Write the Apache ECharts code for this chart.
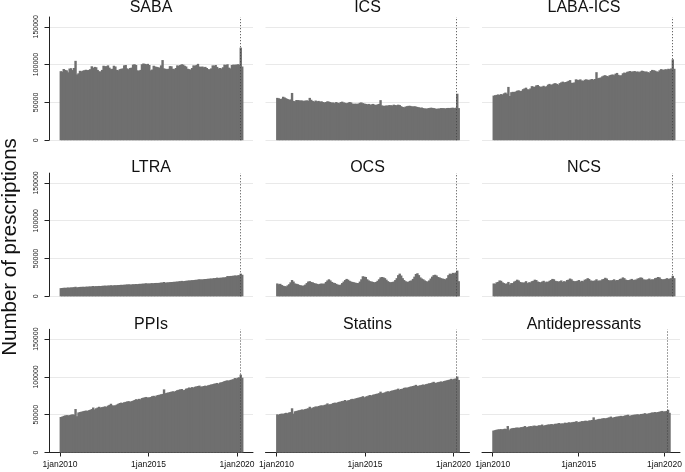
<!DOCTYPE html>
<html><head><meta charset="utf-8">
<script src="https://cdn.jsdelivr.net/npm/echarts@6/dist/echarts.min.js"></script>
<style>html,body{margin:0;padding:0;background:#fff}#c{width:685px;height:472px}</style>
</head><body><div id="c"></div>
<script>
// ---- data ----
const panelNames = ['SABA','ICS','LABA-ICS','LTRA','OCS','NCS','PPIs','Statins','Antidepressants'];
const startYear = 2010, startMonth = 1, monthCount = 124; // Jan 2010 .. Apr 2020
const xTickMonths = ['2010-01','2015-01','2020-01'];
const xTickLabels = ['1jan2010','1jan2015','1jan2020'];
const yTickValues = [0, 50000, 100000, 150000];
const referenceMonth = '2020-03';

const saba = [
 91300,90800,94200,93000,92400,89800,94800,95200,92800,95500,105000,87000,
 88500,91800,91200,92000,92600,93200,92800,93000,94000,97800,95500,97000,
 96500,93000,91200,91000,93000,98500,97800,98000,99000,96000,94000,94500,
 98500,97500,93000,92500,94000,94500,95000,99000,99500,95000,94000,95500,
 96000,100000,100500,99500,92500,91800,93000,100500,101500,101000,100500,101000,
 99500,92500,93500,98500,97500,97000,96500,96000,99000,106000,95000,94500,
 94000,94500,98000,97800,94500,94000,95500,99000,98500,99500,100500,100000,
 98500,97500,94500,94000,93500,95500,99000,98500,99500,101000,97500,97000,
 97500,96500,97000,95500,94000,93800,95000,99000,98500,99500,97000,95000,
 95500,94800,96500,100000,99500,100500,96000,95000,99500,100000,99800,100000,
 100500,100000,122500,97500];
const ics = [
 56000,55500,54500,55000,57500,56500,55500,54500,53500,54000,62500,52000,
 51500,53200,53000,52800,52500,52600,51800,52500,52700,52200,56000,53500,
 52000,51000,52500,51500,52000,51000,51500,50500,50000,50500,51500,51000,
 50500,49500,50000,49000,50500,49500,49000,50500,51000,50000,49500,49000,
 49500,50500,50000,48500,48000,48500,48000,48500,49500,50000,49000,48500,
 48000,47500,48000,47000,47500,48000,47000,46500,47500,48000,53000,46000,
 45500,45500,46000,45800,46500,46200,46000,47000,46500,46200,47000,46500,
 45000,44000,43500,44500,45000,45500,45500,45000,44500,45000,44500,44000,
 43500,43000,43200,42500,42000,41800,42200,42500,43000,42800,42500,42000,
 41500,41800,42000,42500,42500,42300,42000,42500,42700,42500,42800,43000,
 42500,43000,61500,42500];
const labaIcs = [
 59000,59500,60000,60500,60000,61000,60500,62000,63000,61500,70500,58500,
 63500,64000,63800,64500,65500,66000,65000,65500,67500,68500,69500,67500,
 67000,68500,71500,71000,70500,72500,73000,71500,70500,71000,72000,70500,
 71500,73500,74500,73000,74000,75000,75500,74500,73500,75500,76500,77500,
 76500,77000,77500,78500,79500,76000,75800,76500,80500,80000,79500,80500,
 79000,78500,80000,80500,80000,79500,80500,81000,80000,81000,90000,82000,
 82500,83000,84500,85500,86000,85000,84500,86000,86500,87000,86000,88000,
 89000,86500,85500,86000,88500,89500,89000,90500,91000,91500,90500,91000,
 91500,90500,91000,90000,91000,92000,91500,90500,91000,90000,89500,91500,
 93000,92500,92000,91000,90500,92500,94000,93500,93000,94000,93500,94500,
 94000,95000,107000,94500];
const ltra = [
 10800,11000,11300,11200,11400,11600,11500,11700,11900,12000,12600,11600,
 12200,12400,12500,12600,12500,12700,12800,12900,13000,13200,13600,13100,
 13400,13500,13700,13600,13800,14000,14100,14000,14200,14300,14600,14300,
 14500,14700,14600,14900,15000,15200,15100,15300,15500,15600,15900,15500,
 15700,15900,16000,16200,16100,16400,16500,16600,16800,16900,17300,16800,
 17000,17200,17400,17300,17600,17700,17600,17900,18100,18300,18900,18000,
 18300,18500,18700,18900,19000,19200,19300,19500,19800,20000,20400,20000,
 20300,20500,20800,20900,21100,21300,21500,21700,21900,22100,22600,22200,
 22400,22600,22900,23000,23200,23400,23500,23700,24000,24200,24700,24300,
 24500,24700,24900,25100,25300,26800,26600,26900,27000,27200,27600,27300,
 27800,28000,30000,28500];
const ocs = [
 17000,16000,16500,15000,14000,13500,13000,14500,16000,18500,21500,19500,
 17000,16500,16000,15000,14500,14000,14300,15500,17500,19500,20000,19000,
 18500,17500,17000,16500,16000,16500,17000,16500,17000,19000,21000,22500,
 21000,19000,18000,17500,16500,15500,15000,15500,17500,19500,21500,23000,
 22000,20500,19500,19000,18500,18000,17500,17500,19500,22500,26500,26000,
 25500,22500,21000,20000,19500,19000,18500,19000,20500,22500,25000,25500,
 25000,24000,22000,20000,19000,18500,19000,19500,21500,24000,28000,30000,
 27500,24000,21500,20000,19000,19500,20500,21000,23000,26000,29500,30500,
 28000,25000,23500,22500,21000,20000,19500,21000,23500,26000,28000,28500,
 27500,25500,25000,24000,23500,23000,22500,24000,28000,30000,29500,31000,
 30500,31500,34000,20000];
const ncs = [
 17000,16500,18500,19000,21000,20500,18500,17500,16500,17000,19000,15500,
 17500,17500,19500,20500,22000,21000,19000,18500,18000,18500,20000,17500,
 18500,18500,20000,20500,22000,21500,19500,19000,18500,19500,20500,18500,
 19500,19000,20500,21500,23000,22500,20500,20000,19500,20000,21000,19000,
 20000,19500,21500,22000,23500,22500,20500,20000,20000,20500,21500,19500,
 20500,20000,22000,22500,24000,23000,21000,20500,20500,21000,22500,20500,
 21000,21000,22500,23000,24500,23500,21500,21000,21000,21500,22500,21000,
 21500,21500,23000,23500,25000,24000,22000,21500,21500,22000,23000,21500,
 22000,22000,23500,24000,25000,24500,22500,22000,22000,22500,23500,22000,
 22500,22500,24000,24500,25500,25000,23000,22500,22500,23000,24000,23000,
 23500,24000,27000,24000];
const ppis = [
 47000,47500,48500,49000,49500,49000,49500,50000,50500,50000,57500,48000,
 53000,53500,54000,54500,55000,55500,55000,56000,56500,57500,59500,57000,
 58500,59500,60500,59500,60000,60500,61000,60500,62000,63000,64500,62500,
 62000,62500,63500,64500,65500,66000,65500,66500,67000,67500,68000,67000,
 68000,68500,69500,70500,70000,71000,70500,72000,72500,73000,73500,72500,
 73000,73500,74500,75000,74000,75500,76000,76500,77000,77500,83500,78500,
 79000,79500,80000,80500,81000,80500,81500,82500,83000,83500,84000,82500,
 83000,84500,85000,86000,85500,86500,86000,87000,87500,88000,88500,87000,
 87500,88000,88500,88000,89000,89500,90000,90500,91000,91500,92000,91000,
 92500,93000,93500,94500,95000,95500,95000,96000,96500,97000,98500,98000,
 99000,99500,103000,99000];
const statins = [
 50500,50000,51000,51500,51000,52000,52500,52000,53000,53500,58500,51500,
 54500,55000,55500,56000,56500,57000,56500,57500,58000,58500,60500,58500,
 59500,60000,61000,60500,61500,62000,62500,62000,63000,63500,65000,63500,
 64000,64500,65500,66000,65500,66500,67000,67500,68000,68500,69500,68000,
 69000,69500,70500,71000,70500,71500,72000,72500,73000,73500,74500,73000,
 74000,74500,75500,76000,75500,76500,77000,77500,78000,78500,80500,78500,
 79000,79500,80500,81000,80500,81500,82000,82500,83000,83500,84500,83000,
 84000,84500,85500,86000,85500,86500,87000,87500,88000,88500,89500,88000,
 88500,89000,89500,90000,89500,90500,91000,91500,92000,92500,93500,92000,
 92500,93000,93500,94000,93500,94500,95000,95500,96000,96500,97500,96500,
 97500,98000,100500,96000];
const antidepressants = [
 29000,29500,30000,30500,30500,31000,30500,31000,31500,31000,35000,29500,
 31500,32000,32500,32500,33000,33000,32500,33500,33500,34000,35000,33500,
 34000,34500,35000,34500,35500,35500,35000,35500,36000,36000,37000,35500,
 36000,36500,37000,37000,37500,37500,37000,38000,38000,38500,39000,38000,
 38500,38500,39500,39000,39500,40000,39500,40000,40500,40500,41500,40000,
 40500,41000,41500,41500,42000,42000,41500,42500,42500,43000,46500,43000,
 43500,44000,44500,44500,45000,45500,45000,45500,46000,46500,47500,46000,
 46500,47000,47500,47500,48000,48500,48000,48500,49000,49500,50000,48500,
 49000,49500,50000,50000,50500,50500,50000,51000,51000,51500,52000,51000,
 51500,52000,52500,53000,53000,53500,53000,53500,54000,54500,55000,54000,
 54500,55000,56500,52500];
const seriesValues = [saba, ics, labaIcs, ltra, ocs, ncs, ppis, statins, antidepressants];

// ---- derived ----
const months = [];
for (let i = 0; i < monthCount; i++) {
  const m0 = startMonth - 1 + i;
  const y = startYear + Math.floor(m0 / 12), m = (m0 % 12) + 1;
  months.push(y + '-' + String(m).padStart(2, '0'));
}
const xTickIdx = xTickMonths.map(m => months.indexOf(m));
const refIdx = months.indexOf(referenceMonth);

// ---- layout ----
const FONT = 'Liberation Sans, Arial, Helvetica, sans-serif';
const colLeft = [49, 265.5, 482], gridW = 204;
const rowTop = [17, 173.1, 329.3], gridH = 123.2;
const titleY = [8, 167.8, 325];
const BAR = '#6f6f6f';

const grids = [], xAxes = [], yAxes = [], series = [], graphics = [];
panelNames.forEach((name, k) => {
  const r = Math.floor(k / 3), c = k % 3;
  const bottom = r === 2, left = c === 0;
  grids.push({left: colLeft[c], top: rowTop[r], width: gridW, height: gridH, show: false});
  xAxes.push({
    type: 'value', gridIndex: k, min: -7.5, max: 130.8,
    axisLine: {show: bottom, onZero: false, lineStyle: {color: '#222', width: 1}},
    axisTick: {show: bottom, customValues: xTickIdx, length: 4, lineStyle: {color: '#222'}},
    axisLabel: {show: bottom, customValues: xTickIdx, margin: 8, fontSize: 8.5, color: '#111', fontFamily: FONT,
      formatter: v => xTickLabels[xTickIdx.indexOf(v)] || ''},
    splitLine: {show: false}
  });
  yAxes.push({
    type: 'value', gridIndex: k, min: 0, max: 163000,
    axisLine: {show: left, onZero: false, lineStyle: {color: '#222', width: 1}},
    axisTick: {show: left, customValues: yTickValues, length: 4.5, lineStyle: {color: '#222'}},
    axisLabel: {show: left, customValues: yTickValues, rotate: 90, margin: 9, fontSize: 7, color: '#222', fontFamily: FONT,
      formatter: v => String(v)},
    splitLine: {show: true, lineStyle: {color: '#e9e9e9', width: 1}}
  });
  series.push({
    type: 'bar', xAxisIndex: k, yAxisIndex: k, barWidth: 2.4,
    itemStyle: {color: BAR, borderWidth: 0},
    data: seriesValues[k].map((v, i) => [i + 0.5, v]),
    markLine: {
      silent: true, symbol: ['none', 'none'], label: {show: false},
      lineStyle: {type: [1, 2], color: '#444', width: 1},
      data: [{xAxis: refIdx}]
    }
  });
  graphics.push({
    type: 'text', x: colLeft[c] + gridW / 2, y: titleY[r],
    style: {text: name, font: '16px ' + FONT, fill: '#111', textAlign: 'center', textVerticalAlign: 'middle'}
  });
});
graphics.push({
  type: 'text', x: 10.5, y: 247, rotation: Math.PI / 2,
  style: {text: 'Number of prescriptions', font: '20.5px ' + FONT, fill: '#111', textAlign: 'center', textVerticalAlign: 'middle'}
});

const chart = echarts.init(document.getElementById('c'), null, {renderer: 'canvas'});
chart.setOption({
  animation: false, backgroundColor: '#fff',
  grid: grids, xAxis: xAxes, yAxis: yAxes, series: series, graphic: graphics
});
</script></body></html>
